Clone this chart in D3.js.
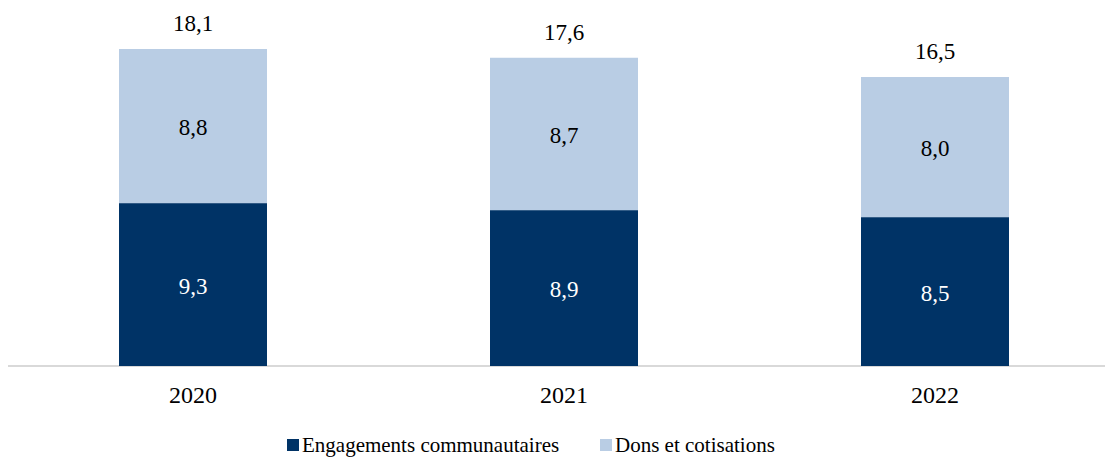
<!DOCTYPE html>
<html><head><meta charset="utf-8">
<script src="https://cdn.jsdelivr.net/npm/d3@7"></script>
<style>body{margin:0;background:#fff}svg{display:block}</style>
</head><body><svg id="c" width="1105" height="457"></svg>
<script>
const categories = ["2020","2021","2022"];
const engagements = [9.3, 8.9, 8.5];
const dons = [8.8, 8.7, 8.0];
const totals = [18.1, 17.6, 16.5];
const seriesNames = ["Engagements communautaires","Dons et cotisations"];
const colors = ["#003366","#B9CDE4"];
const FONT = "Liberation Serif";

const svg = d3.select("#c");
const fmt = v => d3.format(".1f")(v).replace(".", ",");
const pad = 1 - 148/371;
const x = d3.scaleBand().domain(categories).range([7.5, 1120.5]).paddingInner(pad).paddingOuter(pad/2);
const y = d3.scaleLinear().domain([0, 18.1]).range([366, 49]);

const data = categories.map((c,i)=>({c, a:engagements[i], b:dons[i], t:totals[i]}));

svg.append("line").attr("x1",8).attr("x2",1105).attr("y1",366).attr("y2",366)
  .attr("stroke","#D9D9D9").attr("stroke-width",2);

svg.selectAll(".a").data(data).join("rect")
  .attr("x",d=>x(d.c)).attr("width",x.bandwidth())
  .attr("y",d=>y(d.a)).attr("height",d=>y(0)-y(d.a)).attr("fill",colors[0]);
svg.selectAll(".b").data(data).join("rect")
  .attr("x",d=>x(d.c)).attr("width",x.bandwidth())
  .attr("y",d=>y(d.a+d.b)).attr("height",d=>y(d.a)-y(d.a+d.b)).attr("fill",colors[1]);

function lab(sel){ return sel.attr("text-anchor","middle")
  .style("font-family",FONT).style("font-size","23px"); }
lab(svg.selectAll(".la").data(data).join("text")
  .attr("x",d=>x(d.c)+x.bandwidth()/2).attr("y",d=>(y(0)+y(d.a))/2+9))
  .attr("fill","#fff").text(d=>fmt(d.a));
lab(svg.selectAll(".lb").data(data).join("text")
  .attr("x",d=>x(d.c)+x.bandwidth()/2).attr("y",d=>(y(d.a)+y(d.a+d.b))/2+9))
  .attr("fill","#000").text(d=>fmt(d.b));
lab(svg.selectAll(".lt").data(data).join("text")
  .attr("x",d=>x(d.c)+x.bandwidth()/2).attr("y",d=>y(d.t)-18))
  .attr("fill","#000").text(d=>fmt(d.t));

const xa = svg.append("g").attr("transform","translate(0,366)")
  .call(d3.axisBottom(x).tickSize(0));
xa.select(".domain").remove();
xa.selectAll("text").attr("y",37).attr("dy",null).attr("fill","#000")
  .style("font-family",FONT).style("font-size","24px");

const legX = [287, 600];
seriesNames.forEach((n,i)=>{
  svg.append("rect").attr("x",legX[i]).attr("y",439).attr("width",12).attr("height",12).attr("fill",colors[i]);
  svg.append("text").attr("x",legX[i]+15).attr("y",452)
    .style("font-family",FONT).style("font-size","21px").attr("fill","#000").text(n);
});
</script></body></html>
